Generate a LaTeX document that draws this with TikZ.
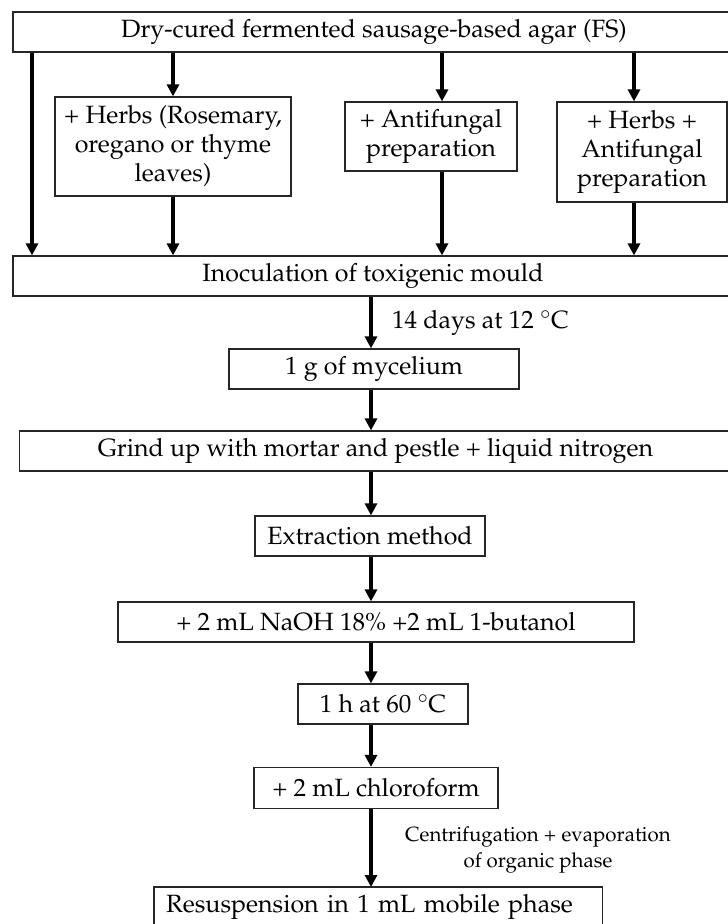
\documentclass[tikz,border=0pt]{standalone}
\usepackage[T1]{fontenc}
\usepackage{mathpazo}
\usetikzlibrary{arrows.meta}
\tikzset{
  box/.style={draw=black!85, line width=1.2pt, fill=white, align=center, inner sep=0pt,
    font=\fontsize{25}{29}\selectfont, minimum height=40pt},
  arr/.style={line width=3.4pt, -{Triangle[width=12pt,length=12pt]}},
  lbl/.style={inner sep=0pt, font=\fontsize{25}{29}\selectfont},
  slbl/.style={inner sep=0pt, align=center, font=\fontsize{20.5}{26}\selectfont}
}
\begin{document}
\begin{tikzpicture}[x=1pt,y=-1pt]
\useasboundingbox (0,0) rectangle (728,924);
\clip (0,0) rectangle (728,924);
\fill[white] (0,0) rectangle (728,924);

\coordinate (c1) at (32,0);
\coordinate (c3) at (442,0);
\coordinate (c4) at (634,0);
\coordinate (cm) at (371,0);

\node[box, minimum width=722pt] (fs) at (374,32) {Dry-cured fermented sausage-based agar (FS)};
\node[box, minimum width=236pt, minimum height=99pt] (herbs) at (173,146.5) {+ Herbs (Rosemary,\\oregano or thyme\\leaves)};
\node[box, minimum width=172pt, minimum height=69pt] (anti) at (431,136.5) {+ Antifungal\\preparation};
\node[box, minimum width=170pt, minimum height=100pt] (both) at (642,152) {+ Herbs +\\Antifungal\\preparation};
\node[box, minimum width=720pt] (inoc) at (373,276) {Inoculation of toxigenic mould};
\node[box, minimum width=290pt] (myc) at (374,369) {1 g of mycelium};
\node[box, minimum width=712pt] (grind) at (375.5,451) {Grind up with mortar and pestle + liquid nitrogen};
\node[box, minimum width=230pt] (ext) at (370,536) {Extraction method};
\node[box, minimum width=516pt] (naoh) at (376,622) {+ 2 mL NaOH 18\% +2 mL 1-butanol};
\node[box, minimum width=170pt] (hour) at (383,704) {1 h at 60 $^{\circ}$C};
\node[box, minimum width=244pt, minimum height=41pt] (chl) at (376,788) {+ 2 mL chloroform};
\node[lbl, anchor=north west, minimum width=448pt, minimum height=40pt, inner xsep=12pt,
      text width=424pt, align=left] (res) at (154,887) {Resuspension in 1 mL mobile phase};
\draw[draw=black!85, line width=1.2pt] (res.south west |- 0,940) -- (res.north west) -- (res.north east) -- (res.south east |- 0,940);

\node[lbl, anchor=west] (l14) at (392,323) {14 days at 12 $^{\circ}$C};
\node[slbl] (lcen) at (538,850) {Centrifugation + evaporation\\of organic phase};

\draw[arr] (fs.south -| c1) -- (inoc.north -| c1);
\draw[arr] (fs.south -| herbs) -- (herbs.north);
\draw[arr] (herbs.south) -- (inoc.north -| herbs);
\draw[arr] (fs.south -| c3) -- (anti.north -| c3);
\draw[arr] (anti.south -| c3) -- (inoc.north -| c3);
\draw[arr] (fs.south -| c4) -- (both.north -| c4);
\draw[arr] (both.south -| c4) -- (inoc.north -| c4);

\draw[arr] (inoc.south -| cm) -- (myc.north -| cm);
\draw[arr] (myc.south -| cm) -- (grind.north -| cm);
\draw[arr] (grind.south -| cm) -- (ext.north -| cm);
\draw[arr] (ext.south -| cm) -- (naoh.north -| cm);
\draw[arr] (naoh.south -| cm) -- (hour.north -| cm);
\draw[arr] (hour.south -| cm) -- (chl.north -| cm);
\draw[arr] (chl.south -| cm) -- (res.north -| cm);
\end{tikzpicture}
\end{document}
